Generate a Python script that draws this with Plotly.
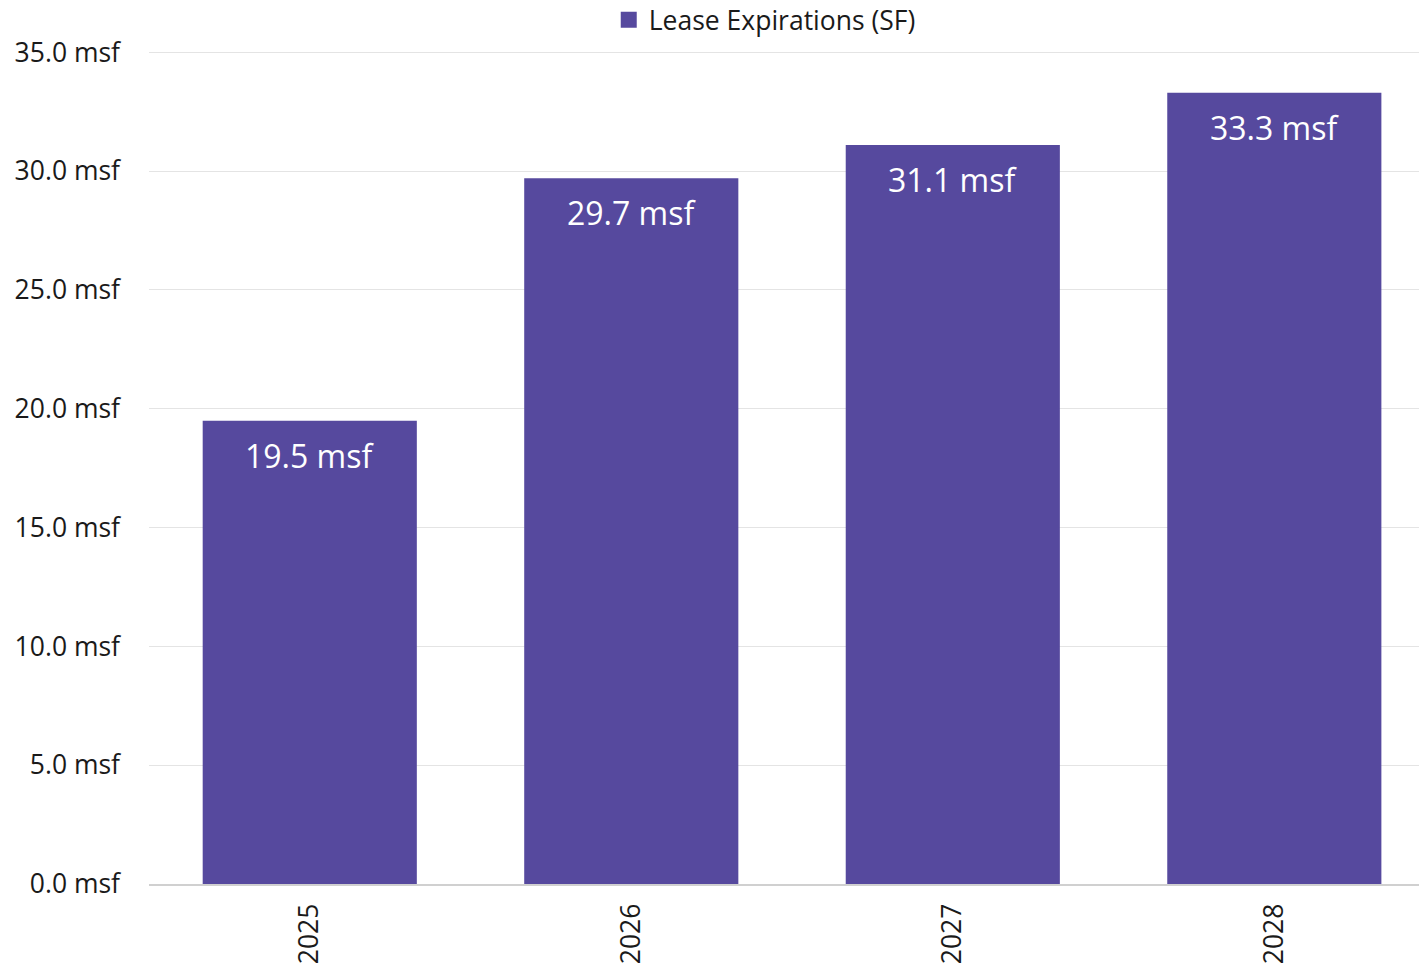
import plotly.graph_objects as go

years = ["2025", "2026", "2027", "2028"]
expirations = [19.5, 29.7, 31.1, 33.3]
series_name = "Lease Expirations (SF)"
tick_vals = [0, 5, 10, 15, 20, 25, 30, 35]
tick_text = [f"{v:.1f} msf" for v in tick_vals]

BAR = "#56499E"
FONT = "Open Sans"

fig = go.Figure()
fig.add_trace(go.Bar(
    x=years, y=expirations, name=series_name,
    marker=dict(color=BAR, line=dict(width=0)),
    showlegend=False,
))
fig.add_trace(go.Scatter(
    x=[years[0]], y=[None], mode="markers", name=series_name,
    marker=dict(symbol="square", size=17, color=BAR), showlegend=True,
))
for i, v in enumerate(expirations):
    fig.add_annotation(x=i, y=v, xref="x", yref="y", text=f"{v:.1f} msf",
                       showarrow=False, yanchor="top", yshift=-11,
                       font=dict(family=FONT, size=32, color="white"))

fig.update_layout(
    width=1419, height=966,
    margin=dict(l=149, r=0, t=50, b=82, autoexpand=False),
    paper_bgcolor="white", plot_bgcolor="white",
    bargap=0.334,
    font=dict(family=FONT, size=26.5, color="#1a1a1a"),
    legend=dict(orientation="h", x=0.362, xanchor="left", y=1.036, yanchor="middle",
                font=dict(family=FONT, size=26.5, color="#1a1a1a"),
                traceorder="normal"),
    xaxis=dict(type="category", range=[-0.5, 3.45], tickangle=-90, tickfont=dict(size=26.5),
               showgrid=False, showline=True, linecolor="#d0d0d0", linewidth=2, ticks="",
               ticklabelstandoff=7),
    yaxis=dict(range=[0, 35.1], tickvals=tick_vals, ticktext=tick_text,
               tickfont=dict(size=26.5), showgrid=True, gridcolor="#e4e4e4", gridwidth=1,
               zeroline=False, showline=False, ticks="", ticklabelstandoff=28),
)
fig.write_html("out.html")
